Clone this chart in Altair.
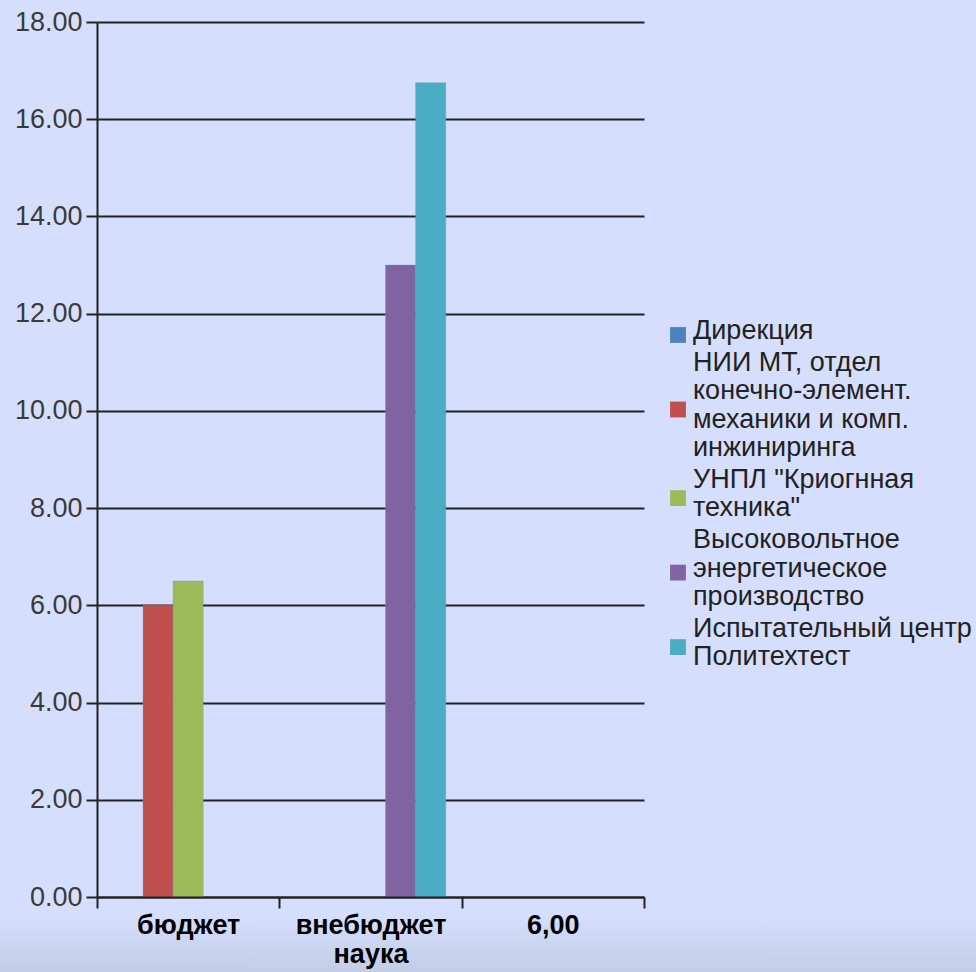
import altair as alt
import pandas as pd

# Categories on the x axis ("\n" marks a line break in the label)
categories = ["бюджет", "внебюджет\nнаука", "6,00"]

# Series (departments), in legend order
series = [
    "Дирекция",
    "НИИ МТ, отдел\nконечно-элемент.\nмеханики и комп.\nинжиниринга",
    "УНПЛ \"Криогнная\nтехника\"",
    "Высоковольтное\nэнергетическое\nпроизводство",
    "Испытательный центр\nПолитехтест",
]
colors = ["#4f81bd", "#c0504d", "#9bbb59", "#8064a2", "#4bacc6"]

# Values per series for each category (None = no bar)
values = {
    series[0]: [None, None, None],
    series[1]: [6.0, None, None],
    series[2]: [6.5, None, None],
    series[3]: [None, 13.0, None],
    series[4]: [None, 16.75, None],
}

y_ticks = [0, 2, 4, 6, 8, 10, 12, 14, 16, 18]

rows = []
for s in series:
    for cat, v in zip(categories, values[s]):
        if v is not None:
            rows.append({"category": cat, "series": s, "value": v})
df = pd.DataFrame(rows)

# Legend table: one row per text line, positions counted in text lines
LINE_H = 28.2          # px per legend text line
ENTRY_GAP = 4 / LINE_H  # extra space between legend entries, in lines
legend_lines, legend_keys = [], []
k = 0
for i, s in enumerate(series):
    parts = s.split("\n")
    first = k + i * ENTRY_GAP
    for j, part in enumerate(parts):
        legend_lines.append({"series": s, "text": part, "pos": first + j})
    legend_keys.append({"series": s, "pos": first + (len(parts) - 1) / 2})
    k += len(parts)
legend_lines = pd.DataFrame(legend_lines)
legend_keys = pd.DataFrame(legend_keys)

FONT = "Liberation Sans"
LINE = "#222222"
W, H = 547, 875
LEGEND_TOP = 317  # baseline of the first legend line, from the plot top

color_scale = alt.Scale(domain=series, range=colors)
legend_y = alt.Y(
    "pos:Q",
    scale=alt.Scale(domain=[0, 1], range=[LEGEND_TOP, LEGEND_TOP + LINE_H]),
    axis=None,
)

# soft grey band along the bottom edge of the slide
band = (
    alt.Chart(alt.Data(values=[{}]))
    .mark_rect(
        color=alt.LinearGradient(
            gradient="linear",
            x1=0, y1=0, x2=0, y2=1,
            stops=[
                alt.GradientStop(color="#d5defc", offset=0),
                alt.GradientStop(color="#c2cde6", offset=1),
            ],
        )
    )
    .encode(
        x=alt.value(-97), x2=alt.value(W + 332),
        y=alt.value(H + 18), y2=alt.value(H + 75),
    )
)

bars = (
    alt.Chart(df)
    .mark_bar(stroke="#7f8aa0", strokeWidth=0.6, strokeOpacity=0.6)
    .encode(
        x=alt.X(
            "category:N",
            sort=categories,
            scale=alt.Scale(domain=categories, paddingInner=0, paddingOuter=0),
            axis=alt.Axis(
                title=None,
                labelAngle=0,
                labelFont=FONT,
                labelFontSize=27,
                labelFontWeight="bold",
                labelColor="#000000",
                labelPadding=4,
                labelLineHeight=29,
                labelExpr="split(datum.label, '\\n')",
                tickBand="extent",
                tickSize=11,
                tickWidth=2,
                tickColor=LINE,
                domainColor=LINE,
                domainWidth=2,
                grid=False,
                zindex=1,
            ),
        ),
        xOffset=alt.XOffset(
            "series:N",
            sort=series,
            scale=alt.Scale(domain=series, paddingInner=0, paddingOuter=0.53),
        ),
        y=alt.Y(
            "value:Q",
            scale=alt.Scale(domain=[0, 18], nice=False),
            axis=alt.Axis(
                title=None,
                values=y_ticks,
                format=".2f",
                labelFont=FONT,
                labelFontSize=27,
                labelColor="#3a3a3a",
                labelPadding=4,
                tickSize=11,
                tickWidth=2,
                tickColor=LINE,
                domainColor=LINE,
                domainWidth=2,
                gridColor=LINE,
                gridWidth=2,
            ),
        ),
        color=alt.Color("series:N", scale=color_scale, legend=None),
    )
)

legend_text = (
    alt.Chart(legend_lines)
    .mark_text(
        align="left", baseline="alphabetic", font=FONT, fontSize=27, color="#222222"
    )
    .encode(x=alt.value(596), y=legend_y, text="text:N")
)

legend_symbols = (
    alt.Chart(legend_keys)
    .mark_square(size=250, opacity=1, yOffset=-4, strokeWidth=0)
    .encode(
        x=alt.value(581),
        y=legend_y,
        color=alt.Color("series:N", scale=color_scale, legend=None),
    )
)

chart = (
    alt.layer(band, bars, legend_symbols, legend_text)
    .resolve_scale(y="independent")
    .properties(
        width=W,
        height=H,
        autosize=alt.AutoSizeParams(type="none"),
        padding={"left": 97, "top": 22, "right": 332, "bottom": 75},
    )
    .configure(background="#d5defc", font=FONT)
    .configure_view(stroke=None)
)

chart.save("out.html", embed_options={"renderer": "svg", "actions": False})
